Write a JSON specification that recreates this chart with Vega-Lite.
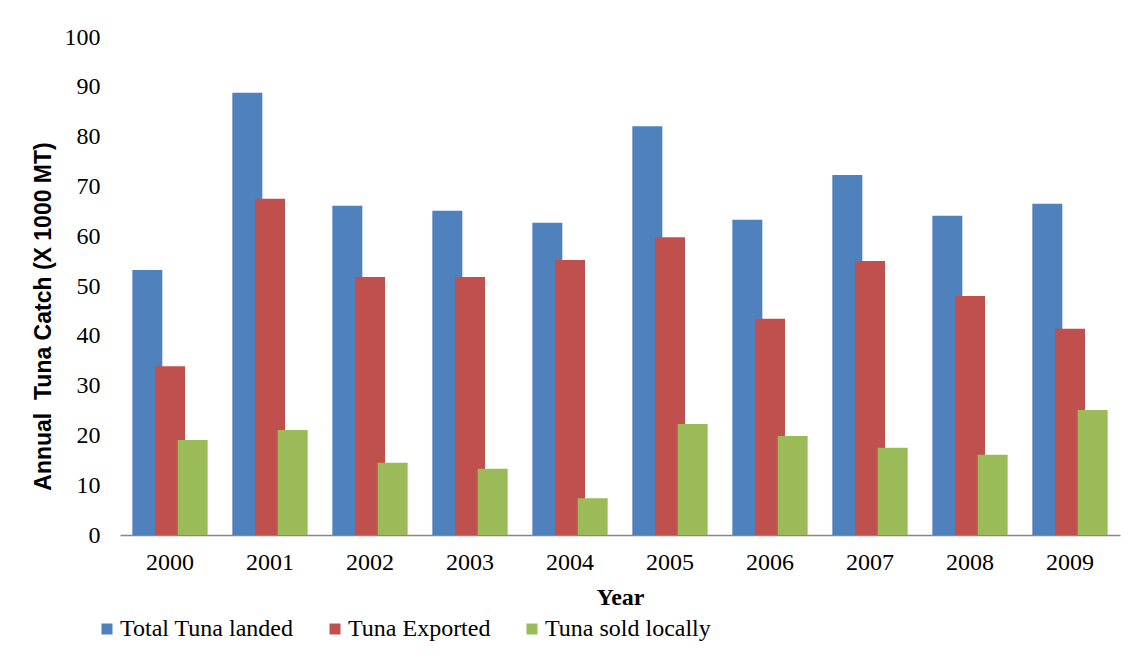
{
  "$schema": "https://vega.github.io/schema/vega-lite/v6.json",
  "width": 1000,
  "height": 498,
  "padding": {"left": 32, "top": 25, "right": 11, "bottom": 5},
  "background": "white",
  "config": {
    "view": {"stroke": null},
    "font": "Liberation Serif"
  },
  "data": {
    "values": [
      {"Year": "2000", "Series": "Total Tuna landed", "Catch": 53.2},
      {"Year": "2000", "Series": "Tuna Exported", "Catch": 33.9},
      {"Year": "2000", "Series": "Tuna sold locally", "Catch": 19.1},
      {"Year": "2001", "Series": "Total Tuna landed", "Catch": 88.8},
      {"Year": "2001", "Series": "Tuna Exported", "Catch": 67.5},
      {"Year": "2001", "Series": "Tuna sold locally", "Catch": 21.1},
      {"Year": "2002", "Series": "Total Tuna landed", "Catch": 66.1},
      {"Year": "2002", "Series": "Tuna Exported", "Catch": 51.8},
      {"Year": "2002", "Series": "Tuna sold locally", "Catch": 14.5},
      {"Year": "2003", "Series": "Total Tuna landed", "Catch": 65.1},
      {"Year": "2003", "Series": "Tuna Exported", "Catch": 51.8},
      {"Year": "2003", "Series": "Tuna sold locally", "Catch": 13.3},
      {"Year": "2004", "Series": "Total Tuna landed", "Catch": 62.7},
      {"Year": "2004", "Series": "Tuna Exported", "Catch": 55.2},
      {"Year": "2004", "Series": "Tuna sold locally", "Catch": 7.4},
      {"Year": "2005", "Series": "Total Tuna landed", "Catch": 82.1},
      {"Year": "2005", "Series": "Tuna Exported", "Catch": 59.8},
      {"Year": "2005", "Series": "Tuna sold locally", "Catch": 22.3},
      {"Year": "2006", "Series": "Total Tuna landed", "Catch": 63.3},
      {"Year": "2006", "Series": "Tuna Exported", "Catch": 43.4},
      {"Year": "2006", "Series": "Tuna sold locally", "Catch": 19.9},
      {"Year": "2007", "Series": "Total Tuna landed", "Catch": 72.3},
      {"Year": "2007", "Series": "Tuna Exported", "Catch": 55.0},
      {"Year": "2007", "Series": "Tuna sold locally", "Catch": 17.5},
      {"Year": "2008", "Series": "Total Tuna landed", "Catch": 64.1},
      {"Year": "2008", "Series": "Tuna Exported", "Catch": 48.0},
      {"Year": "2008", "Series": "Tuna sold locally", "Catch": 16.1},
      {"Year": "2009", "Series": "Total Tuna landed", "Catch": 66.5},
      {"Year": "2009", "Series": "Tuna Exported", "Catch": 41.4},
      {"Year": "2009", "Series": "Tuna sold locally", "Catch": 25.1}
    ]
  },
  "mark": {"type": "bar", "width": 30},
  "encoding": {
    "x": {
      "field": "Year",
      "type": "nominal",
      "scale": {"paddingInner": 0.32, "paddingOuter": 0.16},
      "axis": {
        "title": "Year",
        "titleFont": "Liberation Serif",
        "titleFontSize": 24,
        "titleFontWeight": "bold",
        "titleColor": "black",
        "titlePadding": 11,
        "labelAngle": 0,
        "labelFont": "Liberation Serif",
        "labelFontSize": 24,
        "labelColor": "black",
        "labelPadding": 15,
        "ticks": false,
        "domainColor": "#888888",
        "domainWidth": 1.5,
        "grid": false
      }
    },
    "xOffset": {
      "field": "Series",
      "type": "nominal",
      "sort": ["Total Tuna landed", "Tuna Exported", "Tuna sold locally"],
      "scale": {"paddingInner": 0, "paddingOuter": 0}
    },
    "y": {
      "field": "Catch",
      "type": "quantitative",
      "stack": null,
      "scale": {"domain": [0, 100]},
      "axis": {
        "title": "Annual\u00a0 Tuna Catch (X 1000 MT)",
        "titleFont": "Liberation Sans",
        "titleFontSize": 23,
        "titleFontWeight": "bold",
        "titleColor": "black",
        "titlePadding": 9,
        "titleY": 279,
        "values": [0, 10, 20, 30, 40, 50, 60, 70, 80, 90, 100],
        "labelFont": "Liberation Serif",
        "labelFontSize": 24,
        "labelColor": "black",
        "labelPadding": 20,
        "ticks": false,
        "domain": false,
        "grid": false
      }
    },
    "color": {
      "field": "Series",
      "type": "nominal",
      "sort": ["Total Tuna landed", "Tuna Exported", "Tuna sold locally"],
      "scale": {
        "domain": ["Total Tuna landed", "Tuna Exported", "Tuna sold locally"],
        "range": ["#4F81BD", "#C0504D", "#9BBB59"]
      },
      "legend": {
        "title": null,
        "orient": "none",
        "direction": "horizontal",
        "legendX": -25,
        "legendY": 580,
        "symbolType": "square",
        "symbolSize": 121,
        "symbolStrokeWidth": 0,
        "labelFont": "Liberation Serif",
        "labelFontSize": 24,
        "labelColor": "black",
        "labelOffset": 1,
        "labelLimit": 400,
        "columnPadding": 29
      }
    },
    "order": {"field": "Series", "sort": "ascending"}
  }
}
